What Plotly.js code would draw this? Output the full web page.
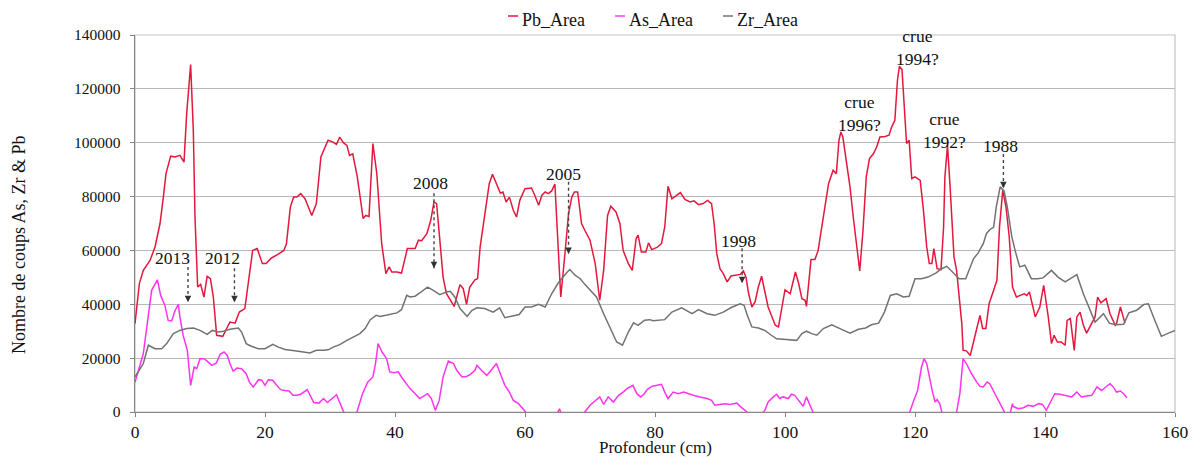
<!DOCTYPE html>
<html><head><meta charset="utf-8">
<script src="https://cdn.plot.ly/plotly-3.0.1.min.js"></script>
<style>html,body{margin:0;padding:0;background:#fff}#chart{width:1196px;height:457px}</style>
</head><body><div id="chart"></div>
<script>
// ---- Data (depth in cm, counts) ----
const seriesNames = ["Pb_Area", "As_Area", "Zr_Area"];

const pbDepth = [0,0.67,1.28,2.31,3.08,3.85,4.36,4.77,5.49,6.15,6.92,7.54,7.95,8.56,8.97,9.23,9.64,10.1,10.6,11.1,11.6,12.05,12.56,13.5,14.1,14.6,15.4,16.05,16.9,17.4,18.1,18.8,19.6,20.15,21.0,22.05,22.9,23.3,23.9,24.4,24.9,25.5,26.15,27.2,27.9,28.6,29.0,29.7,30.4,31.0,31.5,32.05,32.6,33.0,33.5,34.2,35.1,35.5,36.0,36.6,37.2,37.95,38.6,39.1,39.5,40.3,41.0,41.9,43.1,43.6,44.1,44.9,45.5,46.0,46.4,46.9,47.4,47.9,49.1,50.0,50.5,51.0,51.5,52.3,52.7,53.1,53.6,54.1,54.5,55.0,55.6,56.2,56.6,57.1,57.6,58.2,58.7,59.2,60.0,61.0,61.5,62.1,62.6,63.1,63.6,64.1,64.6,65.0,65.5,66.1,66.7,67.2,67.6,68.1,68.7,69.2,70.0,70.8,71.5,72.1,72.7,73.2,74.0,74.6,75.1,75.9,76.5,77.1,77.4,77.9,78.6,79.0,79.5,80.3,81.0,81.5,82.0,82.6,83.2,83.9,84.6,85.4,86.0,86.7,87.4,88.1,88.7,89.1,89.5,90.0,90.5,91.1,91.7,92.3,93.1,93.6,94.0,94.4,94.9,95.4,95.9,96.4,96.9,97.4,97.9,98.5,99.0,99.5,100.0,100.8,101.6,102.1,102.6,103.1,103.3,104.0,104.6,105.1,105.6,106.2,106.7,107.4,107.9,108.3,108.6,108.9,109.5,110.0,110.5,111.0,111.5,112.0,112.5,113.0,113.6,114.1,114.6,115.4,116.0,116.4,116.9,117.3,117.6,118.0,118.3,118.7,119.1,119.5,120.0,120.8,121.3,121.8,122.2,122.6,122.9,123.4,124.0,124.4,124.6,125.0,125.4,126.0,126.4,126.8,127.2,127.4,127.9,128.5,129.0,129.5,130.0,130.4,130.9,131.4,132.1,132.6,133.0,133.5,134.0,134.5,135.0,135.6,136.2,136.8,137.2,137.6,137.9,138.5,139.2,139.8,140.5,141.0,141.4,141.9,142.5,143.1,143.4,143.9,144.5,144.9,145.4,145.9,146.4,147.2,147.7,148.1,148.6,149.4,150.0,150.8,151.0,151.6,152.0,152.3];
const pbCounts = [32800,47700,52600,56300,61300,70000,79800,88500,95000,94700,95300,92800,110800,129000,104600,72400,46400,47400,42700,50400,49500,42700,28500,28100,31000,33400,33000,37100,38400,47700,60000,60700,55100,55100,57200,58600,60000,62500,76100,79800,79800,81100,79200,73000,77400,94700,97200,100900,100300,99400,102100,100000,99000,95300,95900,87300,71800,73000,72600,99700,88500,62500,51400,53900,52000,52000,51600,60700,60700,63800,63600,66200,71200,78000,77400,63800,50100,44000,39200,47300,45800,40000,46400,49100,49500,61300,70000,78600,84800,88300,84800,81300,81700,78000,79800,74900,72400,78600,82900,83200,80500,76800,80500,81700,81100,82100,84600,67500,42700,57600,73700,79800,81700,81700,70000,67500,63800,55100,41500,52600,73000,76400,74300,70000,60000,55100,52600,64400,65700,59400,59400,62800,60300,61100,62500,68700,83800,79200,80200,81500,78900,78000,78400,77000,77400,78600,77400,69900,58800,53200,51400,48300,50500,50800,51100,52400,50100,44000,39000,40900,46400,50400,45200,39000,35900,32200,31600,39000,45400,43900,52000,47700,42100,41500,39200,56600,56600,60000,67500,77400,84800,89800,88500,100900,104000,102100,92200,83600,72400,61300,52400,67500,87300,94100,95900,98400,102100,102300,102800,105800,108300,123200,128400,127200,113300,99700,100900,86700,87300,86000,74900,61300,55100,55100,60700,53200,52900,68700,87300,99000,83600,57600,52600,42700,32800,22900,22700,21000,26600,31000,35900,31000,31000,40200,45200,48900,68700,82300,76100,65000,46400,42700,43300,43900,43300,44600,41500,35300,39000,47000,35300,25400,28500,26000,26000,24800,34000,34700,22900,35300,37100,32200,29300,32800,35300,42700,40500,42100,36500,32200,32800,39000,35300,33000];

const asDepth = [0,1.28,2.56,3.44,3.95,4.6,5.1,5.64,6.15,6.67,6.9,7.4,8.05,8.56,9.1,9.5,10.0,10.6,11.1,11.8,12.5,13.1,13.7,14.2,14.6,15.1,15.7,16.4,17.1,17.6,18.2,19.0,19.5,20.0,20.5,21.2,21.8,22.4,23.1,23.7,24.3,24.9,25.5,26.5,27.5,28.3,29.0,29.6,31.0,32.0,33.2,34.1,35.0,35.8,36.6,37.0,37.4,38.0,38.7,39.2,39.9,40.5,41.0,41.8,42.3,43.1,43.8,44.4,45.0,45.6,46.2,46.8,47.4,48.2,49.0,49.5,50.3,51.0,51.6,52.3,52.6,53.3,54.1,54.7,55.6,56.4,56.9,57.6,58.2,59.0,59.7,60.1,61.5,64.5,65.3,66.0,68.0,69.2,70.0,70.8,71.5,72.1,72.8,73.6,74.4,75.1,75.7,76.6,77.2,77.8,78.3,78.8,79.5,80.3,81.0,81.5,82.0,82.8,83.6,84.4,85.1,85.9,86.9,88.0,88.7,89.2,90.0,90.8,91.5,92.6,93.1,93.8,94.4,95.6,96.5,96.9,97.4,98.2,98.7,99.2,99.7,100.5,101.0,101.5,102.1,102.8,103.3,103.8,104.4,106.0,110.0,115.0,119.2,119.8,120.4,121.0,121.4,121.8,122.2,122.7,123.1,123.4,123.8,124.2,125.3,126.4,126.9,127.4,127.9,128.7,129.5,130.0,130.5,131.1,131.5,132.3,132.8,133.3,133.8,134.4,135.0,135.1,135.9,136.7,137.4,138.2,139.0,139.6,140.2,141.0,141.5,142.3,143.3,144.1,144.9,145.6,146.4,147.2,148.0,148.7,149.2,150.0,150.5,151.0,151.6,152.1,152.6];
const asCounts = [11000,21700,45200,49100,43300,39600,34000,33800,37600,40000,35400,28500,22900,9900,16700,16100,19800,19800,18900,17300,18100,21400,22300,21000,18000,15200,16300,16100,14200,11100,9300,12000,11800,9900,12000,11800,9900,8300,8000,7800,6200,6200,6600,8300,3500,3300,5000,3500,6400,600,-5000,-400,6800,11100,13000,18000,25400,22300,19800,14900,14600,14900,13000,10500,8700,6800,5000,5900,6800,5000,600,4300,13000,18900,18000,15500,13000,13200,14000,15500,17300,15500,13600,15200,18000,13000,9900,7400,4300,3100,1200,0,-6000,-3000,1200,-3000,-5000,0,2500,4300,5600,2800,5600,3700,6200,7400,8700,9900,6800,5600,6600,8300,9500,9900,10300,7400,5000,7400,6800,7400,6800,6200,5600,5000,4300,2500,2800,3100,2800,3300,2100,600,-500,-2000,-500,600,3700,5600,6600,5000,5600,5000,6600,6200,4300,2100,5600,2500,-600,-8000,-10000,-8000,0,4300,8000,16700,19800,18000,13000,7400,3700,4600,3100,-600,-5000,0,6800,19800,18000,14200,11100,9500,9300,11100,10500,6800,4300,2500,0,-3000,3100,2100,1200,1600,2500,2100,3100,2800,600,4300,6800,6600,5900,5600,7400,5600,5900,6200,9300,8000,9000,10500,9300,7400,7800,6800,5300];

const zrDepth = [0,1.28,2.05,3.08,4.1,4.87,5.9,6.9,7.95,9.0,10.0,11.1,11.9,12.8,13.6,14.6,15.9,16.4,17.1,17.9,19.0,20.0,21.2,22.05,23.1,24.4,25.4,26.9,27.9,29.0,29.7,30.5,31.5,32.6,33.5,34.6,35.4,36.2,37.1,37.7,38.6,39.5,40.3,41.0,41.8,42.3,43.1,43.8,45.0,45.9,46.9,47.9,48.5,49.2,50.0,51.1,51.8,52.6,53.8,55.1,56.1,56.9,57.9,59.1,60.0,61.0,62.1,63.1,64.1,65.1,66.4,66.9,67.7,68.5,69.2,70.0,71.0,72.1,73.1,74.1,75.0,75.9,76.7,77.4,78.4,79.2,79.7,81.5,82.6,84.1,85.7,86.7,88.0,89.2,90.5,91.8,93.1,93.7,94.2,94.9,95.9,96.9,97.9,98.7,100.2,101.8,102.6,103.3,104.1,104.9,105.9,107.2,108.7,110.0,111.3,112.4,113.3,114.4,115.3,116.2,117.2,118.2,119.1,120.0,121.0,122.0,123.2,124.1,124.9,125.6,126.8,127.8,128.5,129.0,129.7,130.5,131.0,131.5,132.1,132.5,133.1,133.7,134.2,134.9,135.4,136.1,136.9,137.9,138.9,139.7,141.0,142.0,143.1,143.9,144.9,145.9,146.9,147.7,149.0,149.9,150.8,152.1,152.9,154.1,155.2,155.9,156.9,157.9,159.0,160.0];
const zrCounts = [13000,18000,24800,23500,23500,25400,29100,30300,31000,31200,30300,28800,30300,29700,30000,30700,31200,29700,25400,24400,23500,23500,25100,24100,23200,22900,22500,21900,22900,22900,23100,24100,25000,26600,27600,29100,31000,34300,35900,35500,35900,36500,36800,38000,43300,42700,43000,44200,46400,45200,43600,44600,44800,42700,38400,35500,37700,38700,38400,37100,38700,35000,35500,36200,39000,39000,40000,39000,43900,47900,51700,52900,50800,49500,47400,45200,42700,36500,31000,26000,24800,29700,33100,32200,34100,34300,33900,34300,37100,38700,36500,38000,36500,35900,37100,38900,40200,39600,35900,31600,31200,30300,28500,27200,26900,26600,29100,30000,29100,28500,31000,32400,30700,29300,30700,31200,32400,33000,37100,43300,43900,42700,43000,49500,49500,50100,51600,53200,54100,52400,49500,49500,53900,56900,59000,62500,66300,67700,68700,76100,83600,82100,76100,65000,60000,53900,54500,49500,49500,49800,52600,50100,48300,49500,51000,43900,37800,33400,36500,33000,32400,32600,36800,37800,39900,40200,34000,28100,29300,30300];

// ---- Annotations (labels, label position, arrow depth & top/tip counts) ----
const noteText   = ["2013","2012","2008","2005","1998","crue<br>1996?","crue<br>1994?","crue<br>1992?","1988"];
const noteX      = [5.8,13.5,45.5,65.9,92.9,111.4,120.4,124.5,133.2];
const noteY      = [57300,57300,85100,88400,63600,110900,135500,104400,98800];
const arrowX     = [8.15,15.3,46.0,66.7,93.4,null,null,null,133.6];
const arrowTop   = [53800,53400,81200,85500,60800,null,null,null,95800];
const arrowTip   = [40800,40800,53400,58700,47800,null,null,null,83100];

const colors = ["#e3183c", "#ff33ee", "#727272"];
const FONT = "Liberation Serif";

// pixel geometry of the plot area
const L = 135, R = 1175, T = 35, B = 412;
const px2paperX = p => (p - L) / (R - L);
const px2paperY = p => (B - p) / (B - T);

const traces = [
  {x: pbDepth, y: pbCounts, name: seriesNames[0]},
  {x: asDepth, y: asCounts, name: seriesNames[1]},
  {x: zrDepth, y: zrCounts, name: seriesNames[2]}
].map((t, i) => Object.assign(t, {type: "scatter", mode: "lines", line: {color: colors[i], width: 1.5}, hoverinfo: "skip"}));

const shapes = [
  {type: "rect", xref: "paper", yref: "paper", x0: 0, x1: 1, y0: 0, y1: 1, line: {color: "#c4c4c4", width: 1.2}, layer: "below"}
];
const annotations = [];

noteText.forEach((t, i) => {
  annotations.push({x: noteX[i], y: noteY[i], xref: "x", yref: "y", text: t, showarrow: false,
    font: {family: FONT, size: 17.5, color: "#111"}, xanchor: "center", yanchor: "middle"});
  if (arrowX[i] !== null) {
    shapes.push({type: "line", xref: "x", yref: "y", x0: arrowX[i], x1: arrowX[i], y0: arrowTop[i], y1: arrowTip[i],
      line: {color: "#444", width: 1.4, dash: "dot"}});
    annotations.push({x: arrowX[i], y: arrowTip[i], xref: "x", yref: "y", text: "", showarrow: true,
      ax: 0, ay: -7, arrowhead: 2, arrowsize: 1, arrowwidth: 1.3, arrowcolor: "#333"});
  }
});

// legend (drawn manually to match short line symbols)
const legLineX = [508, 615, 723];
legLineX.forEach((p, i) => {
  shapes.push({type: "line", xref: "paper", yref: "paper", x0: px2paperX(p), x1: px2paperX(p + 10),
    y0: px2paperY(16), y1: px2paperY(16), line: {color: colors[i], width: 1.5}});
  annotations.push({xref: "paper", yref: "paper", x: px2paperX(p + 12), y: px2paperY(20), text: seriesNames[i],
    showarrow: false, xanchor: "left", yanchor: "middle", font: {family: FONT, size: 18, color: "#111"}});
});

// axis titles
annotations.push({xref: "paper", yref: "paper", x: px2paperX(655.5), y: px2paperY(447), text: "Profondeur (cm)",
  showarrow: false, xanchor: "center", yanchor: "middle", font: {family: FONT, size: 17, color: "#111"}});
annotations.push({xref: "paper", yref: "paper", x: px2paperX(19), y: px2paperY(245), text: "Nombre de coups As, Zr & Pb",
  showarrow: false, textangle: -90, xanchor: "center", yanchor: "middle", font: {family: FONT, size: 18, color: "#111"}});

const layout = {
  width: 1196, height: 457,
  margin: {l: L, r: 1196 - R, t: T, b: 457 - B, pad: 0},
  paper_bgcolor: "#fff", plot_bgcolor: "#fff",
  showlegend: false,
  font: {family: FONT, color: "#111"},
  xaxis: {range: [0, 160], dtick: 20, tick0: 0, showgrid: false, zeroline: false,
    showline: true, linecolor: "#858585", linewidth: 1.3, ticks: "outside", ticklen: 4, tickcolor: "#858585",
    tickfont: {family: FONT, size: 17.5, color: "#111"}, ticklabelstandoff: 0},
  yaxis: {range: [0, 140000], dtick: 20000, tick0: 0, tickformat: "d", showgrid: true, gridcolor: "#b8b8b8", gridwidth: 1,
    zeroline: false, showline: true, linecolor: "#858585", linewidth: 1.3, ticks: "outside", ticklen: 4, tickcolor: "#858585",
    tickfont: {family: FONT, size: 15.5, color: "#111"}, ticklabelstandoff: 6},
  shapes: shapes,
  annotations: annotations
};

Plotly.newPlot("chart", traces, layout, {displayModeBar: false, staticPlot: true});
</script>
</body></html>
